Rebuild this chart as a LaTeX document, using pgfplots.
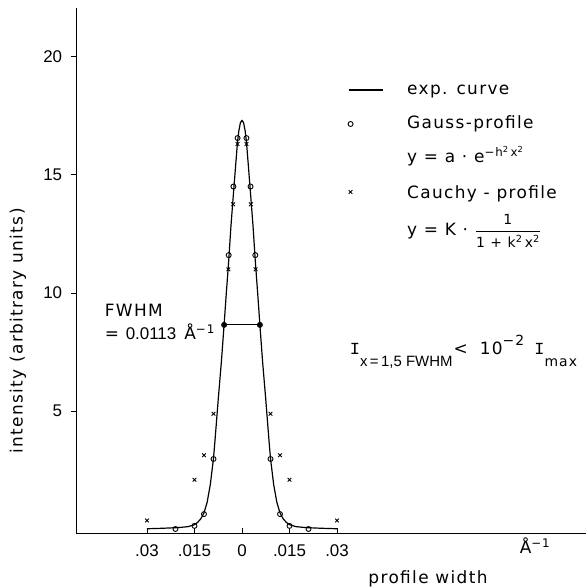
\documentclass[border=0pt]{standalone}
\usepackage{fontspec}
\setmainfont[LetterSpace=8]{DejaVu Sans}
\newfontfamily\digitfont{Liberation Sans}
\newfontfamily\serifI{Liberation Mono}
\usepackage{amsmath}
\usepackage{pgfplots}
\pgfplotsset{compat=1.18}
\pgfplotsset{
  lineleg/.style={legend image code/.code={\draw[##1] (0bp,5bp) -- (34bp,5bp);}},
  markleg/.style={legend image code/.code={\draw[##1] plot coordinates {(2bp,5bp)};}},
}
\newcommand{\mainsize}{\fontsize{17}{20}\selectfont}
\newcommand{\subsize}{\fontsize{14}{14}\selectfont}
\begin{document}
\mainsize
\begin{tikzpicture}[x=1bp,y=1bp]
\useasboundingbox (-76,-54) rectangle (510,533);
\begin{axis}[
  at={(0,0)}, anchor=south west,
  width=510bp, height=525bp, scale only axis,
  xmin=-0.0524, xmax=0.1086, ymin=-0.15, ymax=22.05,
  axis x line=bottom, axis y line=left,
  axis line style={-, line width=0.8pt},
  xtick={-0.03,-0.015,0,0.015,0.03},
  xticklabels={.03,.015,0,.015,.03},
  ytick={5,10,15,20}, yticklabels={5,10,15,20},
  xtick align=inside, ytick align=outside,
  major tick length=5bp,
  every tick/.style={black, line width=0.8pt},
  tick label style={font=\digitfont\fontsize{17}{20}\selectfont},
  xticklabel style={yshift=-6bp},
  yticklabel style={xshift=-3bp},
  legend style={at={(0.5333,0.8762)}, anchor=north west, draw=none, fill=none,
    font=\mainsize,
    inner sep=0pt, outer sep=0pt, row sep=0pt, column sep=24bp,
    nodes={inner sep=0pt, outer sep=0pt, text height=22bp, text depth=12bp},
    cells={anchor=base west}},
  clip=false,
]
% experimental curve
\addplot[black, line width=1.2pt, line join=round, lineleg]
coordinates {
(-0.030,0.03) (-0.025,0.05) (-0.020,0.08) (-0.017,0.12) (-0.015,0.2)
(-0.014,0.3) (-0.013,0.45) (-0.012,0.7) (-0.011,1.15) (-0.010,1.9)
(-0.009,3.0) (-0.0085,3.8) (-0.0075,5.5) (-0.0065,7.1) (-0.00565,8.65)
(-0.005,9.9) (-0.0042,11.35) (-0.0035,12.8) (-0.0027,14.2) (-0.002,15.4)
(-0.0014,16.4) (-0.001,16.85) (-0.0005,17.2) (0,17.3)
(0.0005,17.2) (0.001,16.85) (0.0014,16.4) (0.002,15.4) (0.0027,14.2)
(0.0035,12.8) (0.0042,11.35) (0.005,9.9) (0.00565,8.65) (0.0065,7.1)
(0.0075,5.5) (0.0085,3.8) (0.009,3.0) (0.010,1.9) (0.011,1.15)
(0.012,0.7) (0.013,0.45) (0.014,0.3) (0.015,0.2) (0.017,0.12)
(0.020,0.08) (0.025,0.05) (0.030,0.03)
};
\addlegendentry{exp. curve}
% Gauss profile
\addplot[black, only marks, mark=o, mark size=2.5bp, mark options={line width=0.9pt}, markleg]
coordinates {
(-0.021,0.02) (-0.015,0.15) (-0.012,0.65) (-0.009,2.98) (-0.00565,8.65)
(-0.0042,11.6) (-0.0027,14.5) (-0.0014,16.55)
(0.0014,16.55) (0.0027,14.5) (0.0042,11.6) (0.00565,8.65) (0.009,2.98)
(0.012,0.65) (0.015,0.15) (0.021,0.02)
};
\addlegendentry{Gauss-profile}
\addlegendimage{empty legend}
\addlegendentry{y = a · e\textsuperscript{−h\textsuperscript{2}\,x\textsuperscript{2}}}
% Cauchy profile
\addplot[black, only marks, mark=x, mark size=2.6bp, mark options={line width=0.9pt}, markleg]
coordinates {
(-0.030,0.38) (-0.015,2.1) (-0.012,3.14) (-0.009,4.89) (-0.00565,8.65)
(-0.0043,11.0) (-0.0028,13.75) (-0.0014,16.3)
(0.0014,16.3) (0.0028,13.75) (0.0043,11.0) (0.00565,8.65) (0.009,4.89)
(0.012,3.14) (0.015,2.1) (0.030,0.38)
};
\addlegendentry{\raisebox{-2bp}{Cauchy - profile}}
\addlegendimage{empty legend}
\addlegendentry{\raisebox{-5bp}{y = K · $\dfrac{\text{\subsize 1}}{\text{\subsize 1 + k\textsuperscript{2}\,x\textsuperscript{2}}}$}}
% FWHM line
\addplot[black, line width=1pt, mark=*, mark size=1.6bp, forget plot]
coordinates {(-0.00565,8.65) (0.00565,8.65)};
\end{axis}
\node[anchor=base west] at (23,216) {FWHM};
\node[anchor=base west] at (23,193) {= {\digitfont 0.0113}\hspace{8bp}Å\textsuperscript{−1}};
\node[anchor=base west] at (268,178) {{\serifI I}\raisebox{-12bp}{\digitfont\fontsize{15}{15}\selectfont x\,=\,1,5 FWHM}\hspace{1bp}<\hspace{12bp}10\raisebox{9bp}{\subsize −2}\hspace{10bp}{\serifI I}\raisebox{-12bp}{\subsize max}};
\node at (459,-13) {Å\textsuperscript{−1}};
\node[anchor=base] at (352,-50) {profile width};
\node[rotate=90] at (-58,202) {intensity (arbitrary units)};
\end{tikzpicture}
\end{document}
